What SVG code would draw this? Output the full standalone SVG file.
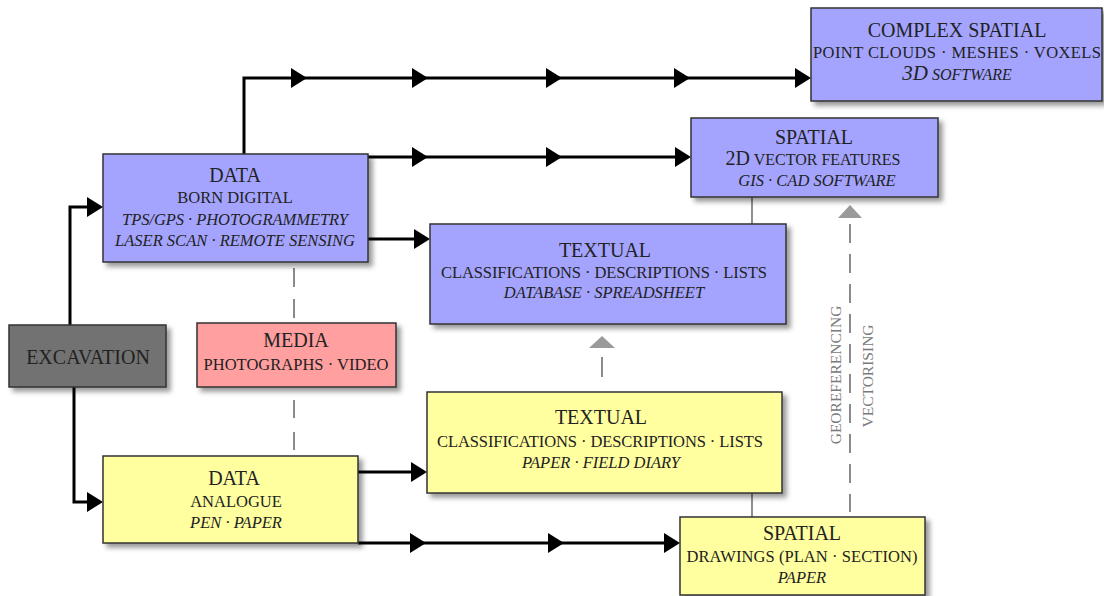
<svg xmlns="http://www.w3.org/2000/svg" xmlns:xlink="http://www.w3.org/1999/xlink" width="1104" height="596" viewBox="0 0 1104 596">
<style>
.box{stroke:#333;stroke-width:1.5;filter:url(#sh)}
.blue{fill:#a4a4ff}
.yel{fill:#ffff9f}
.pink{fill:#ff9f9f}
.grey{fill:#727272}
text{font-family:"Liberation Serif","Times New Roman",serif;fill:#222;text-anchor:middle}
.t{font-size:20px}
.s{font-size:16.5px}
.i{font-size:16.5px;font-style:italic}
.lab{font-size:15.5px;fill:#7a7a7a}
.ln{fill:none;stroke:#000;stroke-width:3}
.thin{stroke:#444;stroke-width:1.2;fill:none}
.dash{stroke:#8a8a8a;stroke-width:2;fill:none}
.garr{fill:#9a9a9a}
</style>
<defs>
<filter id="sh" x="-10%" y="-10%" width="125%" height="130%">
<feDropShadow dx="4" dy="4" stdDeviation="2.5" flood-color="#000" flood-opacity="0.4"/>
</filter>
<path id="ah" d="M-16,-10 L0,0 L-16,10 Z" fill="#000"/>
</defs>

<g id="connectors">
<path class="ln" d="M70,325 V207 H90"/>
<use xlink:href="#ah" x="103" y="207"/>
<path class="ln" d="M74,387 V502 H90"/>
<use xlink:href="#ah" x="103" y="502"/>
<path class="ln" d="M244,154 V78 H798"/>
<use xlink:href="#ah" x="307" y="78"/>
<use xlink:href="#ah" x="428" y="78"/>
<use xlink:href="#ah" x="562" y="78"/>
<use xlink:href="#ah" x="690" y="78"/>
<use xlink:href="#ah" x="811" y="78"/>
<path class="ln" d="M368,157 H678"/>
<use xlink:href="#ah" x="428" y="157"/>
<use xlink:href="#ah" x="562" y="157"/>
<use xlink:href="#ah" x="691" y="157"/>
<path class="ln" d="M368,239 H417"/>
<use xlink:href="#ah" x="430" y="239"/>
<path class="ln" d="M358,472 H414"/>
<use xlink:href="#ah" x="427" y="472"/>
<path class="ln" d="M358,543 H667"/>
<use xlink:href="#ah" x="426" y="543"/>
<use xlink:href="#ah" x="564" y="543"/>
<use xlink:href="#ah" x="680" y="543"/>
<path class="thin" d="M752,197 V224"/>
<path class="thin" d="M752,493 V517"/>
<path class="dash" d="M294,268 V318" stroke-dasharray="19 12"/>
<path class="dash" d="M294,400 V450" stroke-dasharray="18 14"/>
<path class="dash" d="M602,357 V377" stroke="#9a9a9a"/>
<path class="garr" d="M602,336 L615,348 L589,348 Z"/>
<path class="dash" d="M850,224 V512" stroke-dasharray="19 11"/>
<path class="garr" d="M850,205 L862,218 L838,218 Z"/>
<text class="lab" transform="translate(841,375) rotate(-90)">GEOREFERENCING</text>
<text class="lab" transform="translate(873,376) rotate(-90)">VECTORISING</text>
</g>

<g id="excavation">
<rect class="box grey" x="9" y="325" width="157" height="62"/>
<text class="t" x="88" y="364">EXCAVATION</text>
</g>

<g id="data-digital">
<rect class="box blue" x="103" y="154" width="265" height="108"/>
<text class="t" x="235" y="182">DATA</text>
<text class="s" x="235" y="203">BORN DIGITAL</text>
<text class="i" x="235" y="225" textLength="226">TPS/GPS · PHOTOGRAMMETRY</text>
<text class="i" x="235" y="246" textLength="240">LASER SCAN · REMOTE SENSING</text>
</g>

<g id="complex-spatial">
<rect class="box blue" x="811" y="8" width="291" height="93"/>
<text class="t" x="957" y="37">COMPLEX SPATIAL</text>
<text class="s" x="957" y="58" textLength="288">POINT CLOUDS · MESHES · VOXELS</text>
<text x="957" y="80" font-style="italic"><tspan font-size="21">3D</tspan><tspan font-size="16"> SOFTWARE</tspan></text>
</g>

<g id="spatial-digital">
<rect class="box blue" x="691" y="118" width="247" height="79"/>
<text class="t" x="814" y="144">SPATIAL</text>
<text x="813" y="165"><tspan font-size="20">2D</tspan><tspan font-size="16"> VECTOR FEATURES</tspan></text>
<text class="i" x="817" y="186">GIS · CAD SOFTWARE</text>
</g>

<g id="textual-digital">
<rect class="box blue" x="430" y="224" width="356" height="100"/>
<text class="t" x="605" y="257">TEXTUAL</text>
<text class="s" x="604" y="278" textLength="326">CLASSIFICATIONS · DESCRIPTIONS · LISTS</text>
<text class="i" x="604" y="298">DATABASE · SPREADSHEET</text>
</g>

<g id="media">
<rect class="box pink" x="197" y="323" width="199" height="64"/>
<text class="t" x="296" y="347">MEDIA</text>
<text class="s" x="296" y="370" textLength="185">PHOTOGRAPHS · VIDEO</text>
</g>

<g id="textual-analogue">
<rect class="box yel" x="427" y="392" width="355" height="101"/>
<text class="t" x="601" y="424">TEXTUAL</text>
<text class="s" x="600" y="447" textLength="326">CLASSIFICATIONS · DESCRIPTIONS · LISTS</text>
<text class="i" x="601" y="468">PAPER · FIELD DIARY</text>
</g>

<g id="data-analogue">
<rect class="box yel" x="103" y="456" width="255" height="87"/>
<text class="t" x="234" y="485">DATA</text>
<text class="s" x="236" y="507">ANALOGUE</text>
<text class="i" x="236" y="528">PEN · PAPER</text>
</g>

<g id="spatial-analogue">
<rect class="box yel" x="680" y="517" width="245" height="78"/>
<text class="t" x="802" y="540">SPATIAL</text>
<text class="s" x="802" y="562" textLength="231">DRAWINGS (PLAN · SECTION)</text>
<text class="i" x="802" y="583">PAPER</text>
</g>
</svg>
